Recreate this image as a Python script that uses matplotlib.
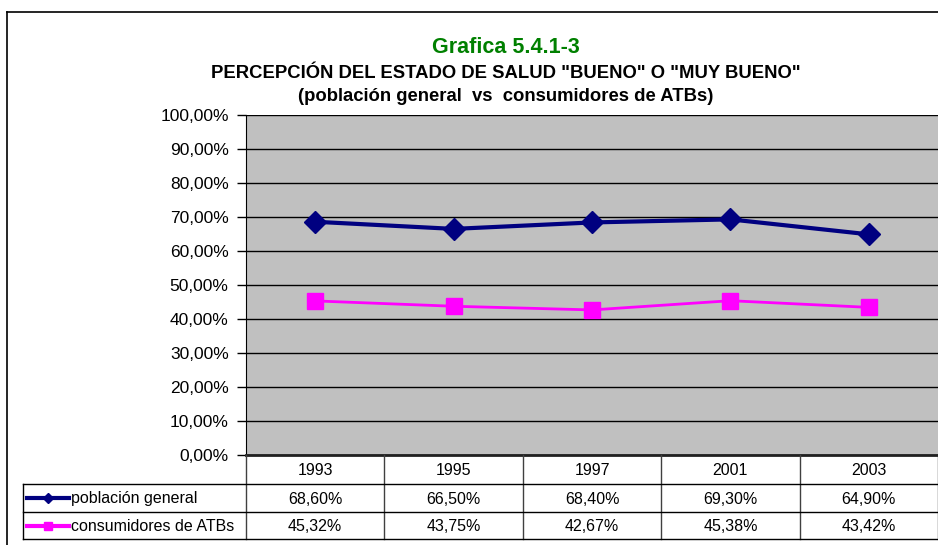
import matplotlib
matplotlib.use("Agg")
import matplotlib.pyplot as plt
import matplotlib.transforms as mtransforms
from matplotlib.lines import Line2D

plt.rcParams['font.family'] = ['Liberation Sans', 'DejaVu Sans']

years = ["1993", "1995", "1997", "2001", "2003"]
poblacion = [68.60, 66.50, 68.40, 69.30, 64.90]
consumidores = [45.32, 43.75, 42.67, 45.38, 43.42]
series_names = ["población general", "consumidores de ATBs"]
yticks = [0, 10, 20, 30, 40, 50, 60, 70, 80, 90, 100]

W, H = 938, 545
fig = plt.figure(figsize=(W / 100, H / 100), dpi=100)

def fx(px):
    return px / W

def fy(py):
    return 1 - py / H

L, R, T, B = 246, 938, 115, 455
ax = fig.add_axes([fx(L), fy(B), fx(R) - fx(L), fy(T) - fy(B)])
ax.set_facecolor('#C0C0C0')
x = list(range(len(years)))
ax.plot(x, poblacion, color='#000080', lw=3, marker='D', ms=11, zorder=5, clip_on=False)
ax.plot(x, consumidores, color='#FF00FF', lw=2, marker='s', ms=11, zorder=5, clip_on=False)
ax.set_xlim(-0.5, len(years) - 0.5)
ax.set_ylim(0, 100)
ax.set_yticks(yticks)
ax.set_yticklabels([f"{v:.2f}".replace('.', ',') + "%" for v in yticks], fontsize=12.5)
ax.yaxis.grid(True, color='black', lw=1)
ax.set_axisbelow(True)
ax.set_xticks([])
ax.tick_params(axis='y', length=6.5, width=1, pad=6)
for s in ['top', 'right']:
    ax.spines[s].set_visible(False)
ax.spines['left'].set_color('black')
ax.spines['bottom'].set_color('#202020')
ax.spines['bottom'].set_linewidth(2)

# frame
fig.add_artist(Line2D([fx(7), fx(7)], [fy(12), fy(H + 5)], transform=fig.transFigure, color='black', lw=1.2))
fig.add_artist(Line2D([fx(7), fx(W + 5)], [fy(12), fy(12)], transform=fig.transFigure, color='black', lw=1.2))

# titles
cx = fx(506)
fig.text(cx, fy(53), "Grafica 5.4.1-3", color='#008000', fontsize=15.5, fontweight='bold', ha='center', va='baseline')
fig.text(cx, fy(78), 'PERCEPCIÓN DEL ESTADO DE SALUD "BUENO" O "MUY BUENO"', fontsize=13.3, fontweight='bold', ha='center', va='baseline')
fig.text(cx, fy(101), '(población general  vs  consumidores de ATBs)', fontsize=13.3, fontweight='bold', ha='center', va='baseline')

# data table
bt = mtransforms.blended_transform_factory(ax.transData, fig.transFigure)
ft = fig.transFigure
r0, r1, r2, r3 = B, 484, 512, 539
tl = 23
lc = '#404040'
fs = 11.5
for i in range(len(years) + 1):
    xb = i - 0.5
    fig.add_artist(Line2D([xb, xb], [fy(r0), fy(r3)], transform=bt, color=lc, lw=1))
for yy in [r1, r2, r3]:
    fig.add_artist(Line2D([fx(tl), fx(W + 5)], [fy(yy), fy(yy)], transform=ft, color='black', lw=1))
fig.add_artist(Line2D([fx(tl), fx(tl)], [fy(r1), fy(r3)], transform=ft, color='black', lw=1))

for i, yr in enumerate(years):
    fig.text(i, fy((r0 + r1) / 2 + 1), yr, transform=bt, ha='center', va='center', fontsize=fs)
for i, v in enumerate(poblacion):
    fig.text(i, fy((r1 + r2) / 2 + 1), f"{v:.2f}".replace('.', ',') + "%", transform=bt, ha='center', va='center', fontsize=fs)
for i, v in enumerate(consumidores):
    fig.text(i, fy((r2 + r3) / 2 + 1), f"{v:.2f}".replace('.', ',') + "%", transform=bt, ha='center', va='center', fontsize=fs)

# legend keys
ym1 = fy((r1 + r2) / 2)
ym2 = fy((r2 + r3) / 2)
fig.add_artist(Line2D([fx(27), fx(69)], [ym1, ym1], transform=ft, color='#000080', lw=3))
fig.add_artist(Line2D([fx(48)], [ym1], transform=ft, color='#000080', marker='D', ms=5, lw=0))
fig.add_artist(Line2D([fx(27), fx(69)], [ym2, ym2], transform=ft, color='#FF00FF', lw=3))
fig.add_artist(Line2D([fx(48)], [ym2], transform=ft, color='#FF00FF', marker='s', ms=6, lw=0))
fig.text(fx(71), fy((r1 + r2) / 2 + 1), series_names[0], ha='left', va='center', fontsize=fs)
fig.text(fx(71), fy((r2 + r3) / 2 + 1), series_names[1], ha='left', va='center', fontsize=fs)

fig.savefig("out.png", dpi=100)
